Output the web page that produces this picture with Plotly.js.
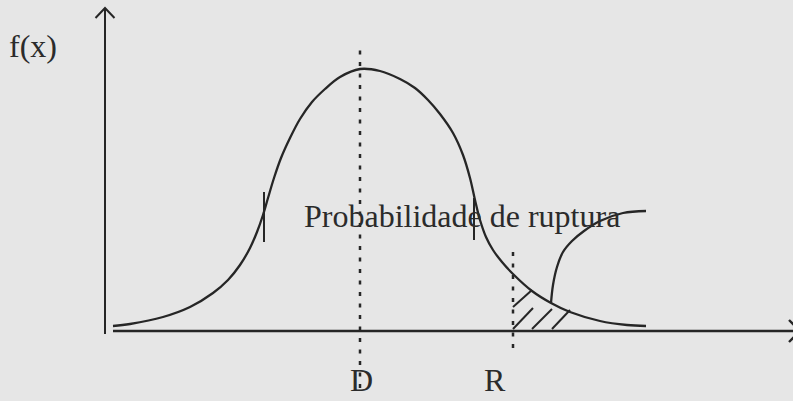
<!DOCTYPE html>
<html>
<head>
<meta charset="utf-8">
<script src="https://cdn.plot.ly/plotly-3.0.1.min.js"></script>
<style>
  html, body { margin: 0; padding: 0; background: #e6e6e6; }
  #chart { width: 793px; height: 401px; }
</style>
</head>
<body>
<div id="chart"></div>
<script>
// Load distribution f(x): sampled points along the bell curve
const loadX = [0.8, 2.5, 5.8, 8.5, 10.8, 12.3, 13.5, 14.5, 15.2, 15.8, 16.3, 16.9, 17.6, 18.5,
               19.5, 20.7, 22.0, 23.5, 25.5, 27.5, 29.5, 31.0, 32.3, 33.5, 34.8, 35.8, 36.5,
               37.0, 37.5, 38.1, 38.8, 39.7, 40.8, 42.7, 44.6, 46.5, 49.5, 52.2, 54.1];
const loadY = [0.5, 0.7, 1.4, 2.4, 3.8, 5.1, 6.6, 8.3, 9.9, 11.6, 13.3, 15.3, 17.3, 19.3,
               21.2, 22.9, 24.2, 25.4, 26.2, 26.0, 25.2, 24.3, 23.1, 21.7, 19.8, 17.6, 15.3,
               13.1, 11.1, 9.4, 8.1, 6.9, 5.7, 4.0, 2.8, 1.9, 1.0, 0.6, 0.5];

// Rising branch of the strength distribution
const strengthX = [44.6, 44.8, 45.2, 45.8, 46.7, 47.9, 49.5, 51.8, 54.1];
const strengthY = [2.8, 4.6, 6.4, 7.9, 9.0, 10.0, 11.0, 11.8, 12.0];

// Reference values on the x axis: demand (D) and resistance (R)
const refLabels = ['D', 'R'];
const refX = [25.5, 40.8];
const refTop = [28.1, 8.1];
const refBottom = [-5.7, -1.7];

// Short break marks crossing the curve
const breakX = [15.9, 36.9];
const breakTop = [13.9, 13.3];
const breakBottom = [8.9, 9.1];

// Hatching of the failure region (segment endpoints)
const hatchX0 = [40.8, 40.8, 42.7, 44.7];
const hatchY0 = [2.4, 0.2, 0.2, 0.2];
const hatchX1 = [42.7, 42.8, 44.7, 46.5];
const hatchY1 = [4.1, 2.3, 2.2, 2.1];

const areaLabel = 'Probabilidade de ruptura';
const yLabel = 'f(x)';

const ink = '#262626';
const serif = '"Liberation Serif", "Times New Roman", serif';

const traces = [];

// Axes with open arrowheads
traces.push({
  x: [0, 0, null, -0.95, 0, 0.95],
  y: [-0.3, 32.3, null, 31.3, 32.3, 31.3],
  mode: 'lines', line: {color: ink, width: 2}, hoverinfo: 'skip'
});
traces.push({
  x: [0.8, 69.5, null, 68.4, 69.5, 68.4],
  y: [0, 0, null, 1.1, 0, -1.1],
  mode: 'lines', line: {color: ink, width: 2.4}, hoverinfo: 'skip'
});

// Dotted reference lines at D and R
refX.forEach((v, i) => {
  traces.push({
    x: [v, v], y: [refBottom[i], refTop[i]],
    mode: 'lines', line: {color: ink, width: 2.5, dash: '4px,7.5px'}, hoverinfo: 'skip'
  });
});

// Load curve
traces.push({
  x: loadX, y: loadY, mode: 'lines',
  line: {color: ink, width: 2.3, shape: 'spline', smoothing: 1}, hoverinfo: 'skip'
});

// Strength curve
traces.push({
  x: strengthX, y: strengthY, mode: 'lines',
  line: {color: ink, width: 2.3, shape: 'spline', smoothing: 1}, hoverinfo: 'skip'
});

// Break marks
const bx = [], by = [];
breakX.forEach((v, i) => { bx.push(v, v, null); by.push(breakBottom[i], breakTop[i], null); });
traces.push({x: bx, y: by, mode: 'lines', line: {color: ink, width: 2}, hoverinfo: 'skip'});

// Hatching
const hx = [], hy = [];
hatchX0.forEach((v, i) => { hx.push(v, hatchX1[i], null); hy.push(hatchY0[i], hatchY1[i], null); });
traces.push({x: hx, y: hy, mode: 'lines', line: {color: ink, width: 2}, hoverinfo: 'skip'});

const labelShift = [1, -18];
const annotations = [
  {x: -9.8, y: 28.5, text: yLabel, xanchor: 'left', yanchor: 'middle'},
  {x: 19.7, y: 11.5, text: areaLabel, xanchor: 'left', yanchor: 'middle'},
].concat(refLabels.map((t, i) => ({
  x: refX[i], y: -4.9, text: t, xanchor: 'center', yanchor: 'middle', xshift: labelShift[i]
}))).map(a => Object.assign({
  xref: 'x', yref: 'y', showarrow: false,
  font: {family: serif, size: 32, color: '#2b2b2b'}
}, a));

const layout = {
  width: 793, height: 401,
  margin: {l: 0, r: 0, t: 0, b: 0},
  paper_bgcolor: '#e6e6e6', plot_bgcolor: '#e6e6e6',
  showlegend: false,
  xaxis: {range: [-10.5, 68.8], visible: false, fixedrange: true},
  yaxis: {range: [-7, 33.1], visible: false, fixedrange: true},
  annotations: annotations
};

Plotly.newPlot('chart', traces, layout, {staticPlot: true, displayModeBar: false});
</script>
</body>
</html>
